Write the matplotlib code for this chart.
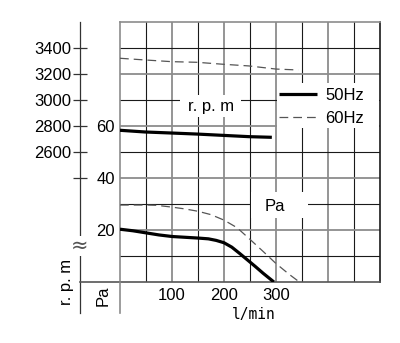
import matplotlib
matplotlib.use("Agg")
import matplotlib.pyplot as plt
from matplotlib.lines import Line2D
from matplotlib.patches import Rectangle

plt.rcParams['font.family'] = ['Liberation Sans', 'DejaVu Sans']

# static pressure curves (Pa vs l/min)
flow_50_pa = [0, 25, 50, 75, 100, 125, 150, 170, 185, 200, 215, 230, 245, 260, 275, 296]
pa_50 = [20.3, 19.7, 18.9, 18.1, 17.5, 17.2, 16.9, 16.6, 16.0, 15.1, 13.4, 11.0, 8.5, 6.0, 3.4, 0.0]
flow_60_pa = [0, 50, 70, 100, 125, 150, 175, 200, 225, 250, 275, 300, 325, 345]
pa_60 = [29.6, 29.6, 29.5, 28.8, 28.1, 27.2, 25.9, 23.8, 20.9, 16.4, 11.8, 7.1, 3.0, 0.0]

# speed curves (r.p.m vs l/min)
flow_50_rpm = [0, 48, 99, 148, 198, 248, 292]
rpm_50 = [2767, 2754, 2746, 2738, 2728, 2718, 2713]
flow_60_rpm = [0, 48, 99, 148, 198, 248, 300, 343]
rpm_60 = [3321, 3308, 3295, 3290, 3275, 3262, 3238, 3231]

x_ticks = [100, 200, 300]
pa_ticks = [20, 40, 60]
rpm_ticks = [2400, 2600, 2800, 3000, 3200, 3400]
rpm_labels = ['', '2600', '2800', '3000', '3200', '3400']

W, H = 400, 343


def fx(px):
    return px / W


def fy(py):
    return 1 - py / H


fig = plt.figure(figsize=(4, 3.43), dpi=100)
ax = fig.add_axes([fx(120), fy(282), 260 / W, 260 / H])
ax.set_xlim(0, 500)
ax.set_ylim(0, 100)

dark = '#1a1a1a'
grey = '#8c8c8c'
for v in range(50, 500, 50):
    if v % 100 == 0:
        ax.axvline(v, color=grey, lw=1.3, zorder=1)
    else:
        ax.axvline(v, color=dark, lw=0.8, zorder=1)
for h in range(10, 100, 10):
    if h % 20 == 0:
        ax.axhline(h, color=grey, lw=1.3, zorder=1)
    else:
        ax.axhline(h, color=dark, lw=0.8, zorder=1)

ax.spines['left'].set_color(grey)
ax.spines['top'].set_color(grey)
ax.spines['right'].set_color(dark)
ax.spines['bottom'].set_color('#555555')
for s in ax.spines.values():
    s.set_linewidth(1.2)

# white label boxes over the grid
ax.add_patch(Rectangle((115, 63.5), 117, 8.5, facecolor='white', edgecolor='none', zorder=2))
ax.add_patch(Rectangle((302, 59.2), 197, 17.3, facecolor='white', edgecolor='none', zorder=2))
ax.add_patch(Rectangle((252, 24.6), 109, 10.0, facecolor='white', edgecolor='none', zorder=2))

l50, = ax.plot(flow_50_pa, pa_50, color='black', lw=2.3, zorder=4, solid_capstyle='butt')
l60, = ax.plot(flow_60_pa, pa_60, color='#555555', lw=0.9, ls=(0, (7, 4)), zorder=4)

ax.set_xticks(x_ticks)
ax.set_xticklabels([str(v) for v in x_ticks])
ax.set_yticks(pa_ticks)
ax.set_yticklabels([str(v) for v in pa_ticks])
ax.tick_params(axis='x', length=0, pad=4.5, labelsize=12)
ax.tick_params(axis='y', length=0, pad=3.6, labelsize=12)

ax.text(176, 67.4, 'r. p. m', ha='center', va='center', fontsize=12, zorder=5)
ax.text(298, 29, 'Pa', ha='center', va='center', fontsize=12, zorder=5)

ax2 = ax.twinx()
ax2.set_ylim(1600, 3600)
ax2.plot(flow_50_rpm, rpm_50, color='black', lw=2.3, zorder=4, solid_capstyle='butt')
ax2.plot(flow_60_rpm, rpm_60, color='#555555', lw=0.9, ls=(0, (7, 4)), zorder=4)
for s in ax2.spines.values():
    s.set_color('none')
ax2.spines['left'].set_position(('axes', -40 / 260))
ax2.yaxis.set_ticks_position('left')
ax2.yaxis.set_label_position('left')
ax2.set_yticks(rpm_ticks)
ax2.set_yticklabels(rpm_labels)
ax2.tick_params(axis='y', direction='inout', length=9.5, width=0.9, pad=1.3,
                labelsize=12, color='#333333')

leg = ax.legend([l50, l60], ['50Hz', '60Hz'], loc='upper left',
                bbox_to_anchor=(fx(277), fy(86)), bbox_transform=fig.transFigure,
                frameon=False, fontsize=12, handlelength=2.28, handletextpad=0.48,
                labelspacing=0.5, borderpad=0.12, borderaxespad=0)
leg.set_zorder(6)

# left rpm spine and bottom extensions
fig.add_artist(Line2D([fx(80), fx(80)], [fy(22), fy(313)], color='#333333', lw=0.9))
fig.add_artist(Line2D([fx(80), fx(120)], [fy(282), fy(282)], color='#555555', lw=1.2))
fig.add_artist(Line2D([fx(120), fx(120)], [fy(282), fy(313)], color=grey, lw=1.2))
fig.text(fx(80), fy(246), '≈', ha='center', va='center', fontsize=15, color='#555555',
         family='DejaVu Sans',
         bbox=dict(facecolor='white', edgecolor='none', pad=0.3))

fig.text(fx(66), fy(282), 'r. p. m', rotation=90, ha='center', va='center', fontsize=12)
fig.text(fx(103), fy(296), 'Pa', rotation=90, ha='center', va='center', fontsize=12)
fig.text(fx(254), fy(315), 'l/min', ha='center', va='center', fontsize=10.5,
         family='DejaVu Sans Mono')

fig.savefig('out.png', dpi=100)
